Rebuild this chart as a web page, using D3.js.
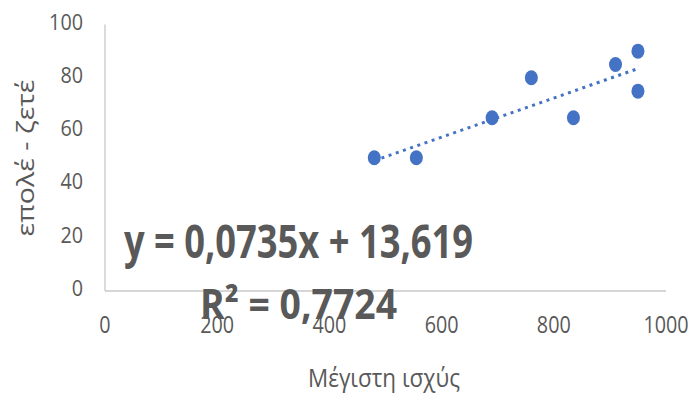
<!DOCTYPE html>
<html>
<head>
<meta charset="utf-8">
<script src="https://cdn.jsdelivr.net/npm/d3@7"></script>
<style>
  html, body { margin: 0; padding: 0; background: #ffffff; }
  svg { display: block; }
  text { font-family: "Open Sans", "Noto Sans", sans-serif; fill: #595959; }
</style>
</head>
<body>
<svg id="chart" width="693" height="394"></svg>
<script>
// ---- data ----
const xValues = [480, 555, 690, 760, 835, 910, 950, 950];
const yValues = [50, 50, 65, 80, 65, 85, 90, 75];
const xTicks = [0, 200, 400, 600, 800, 1000];
const yTicks = [0, 20, 40, 60, 80, 100];
const trendSlope = 0.0735;
const trendIntercept = 13.619;
const equationLabel = "y = 0,0735x + 13,619";
const r2Label = "R² = 0,7724";
const xTitle = "Μέγιστη ισχύς";
const yTitle = "επολέ - ζετέ";

const svg = d3.select("#chart");
const x = d3.scaleLinear().domain([0, 1000]).range([105, 666]);
const y = d3.scaleLinear().domain([0, 100]).range([291, 24.5]);

const axisColor = "#c8c8c8";
const textColor = "#595959";
const blue = "#4472C4";

// axis lines
svg.append("line").attr("x1", x(0)).attr("x2", x(0)).attr("y1", y(100)).attr("y2", y(0))
  .attr("stroke", axisColor).attr("stroke-width", 1.3);
svg.append("line").attr("x1", x(0)).attr("x2", x(1000)).attr("y1", y(0)).attr("y2", y(0))
  .attr("stroke", axisColor).attr("stroke-width", 1.3);

// y tick labels
svg.append("g").selectAll("text").data(yTicks).join("text")
  .attr("x", 83).attr("y", d => y(d) + 5)
  .attr("text-anchor", "end")
  .attr("font-size", 22)
  .attr("textLength", d => String(d).length * 11.3)
  .attr("lengthAdjust", "spacingAndGlyphs")
  .text(d => d);

// x tick labels
svg.append("g").selectAll("text").data(xTicks).join("text")
  .attr("x", d => x(d)).attr("y", 333)
  .attr("text-anchor", "middle")
  .attr("font-size", 24)
  .attr("textLength", d => String(d).length * 11.3)
  .attr("lengthAdjust", "spacingAndGlyphs")
  .text(d => d);

// axis titles
svg.append("text")
  .attr("x", 384).attr("y", 387)
  .attr("text-anchor", "middle")
  .attr("font-size", 25)
  .attr("textLength", 152)
  .attr("lengthAdjust", "spacingAndGlyphs")
  .text(xTitle);

svg.append("text")
  .attr("transform", "translate(34,158) rotate(-90)")
  .attr("text-anchor", "middle")
  .attr("font-size", 23)
  .attr("textLength", 157)
  .attr("lengthAdjust", "spacingAndGlyphs")
  .text(yTitle);

// trendline
const xMin = d3.min(xValues), xMax = d3.max(xValues);
svg.append("line")
  .attr("x1", x(xMin)).attr("y1", y(trendSlope * xMin + trendIntercept))
  .attr("x2", x(xMax)).attr("y2", y(trendSlope * xMax + trendIntercept))
  .attr("stroke", blue).attr("stroke-width", 3)
  .attr("stroke-dasharray", "3,4.6");

// points
svg.append("g").selectAll("ellipse").data(xValues.map((v, i) => [v, yValues[i]])).join("ellipse")
  .attr("cx", d => x(d[0])).attr("cy", d => y(d[1]))
  .attr("rx", 6.5).attr("ry", 7.5)
  .attr("fill", blue);

// equation labels
svg.append("text")
  .attr("x", 124).attr("y", 258)
  .attr("font-size", 47).attr("font-weight", "bold")
  .attr("textLength", 349)
  .attr("lengthAdjust", "spacingAndGlyphs")
  .text(equationLabel);

svg.append("text")
  .attr("x", 200).attr("y", 319)
  .attr("font-size", 42).attr("font-weight", "bold")
  .attr("textLength", 197)
  .attr("lengthAdjust", "spacingAndGlyphs")
  .text(r2Label);
</script>
</body>
</html>
